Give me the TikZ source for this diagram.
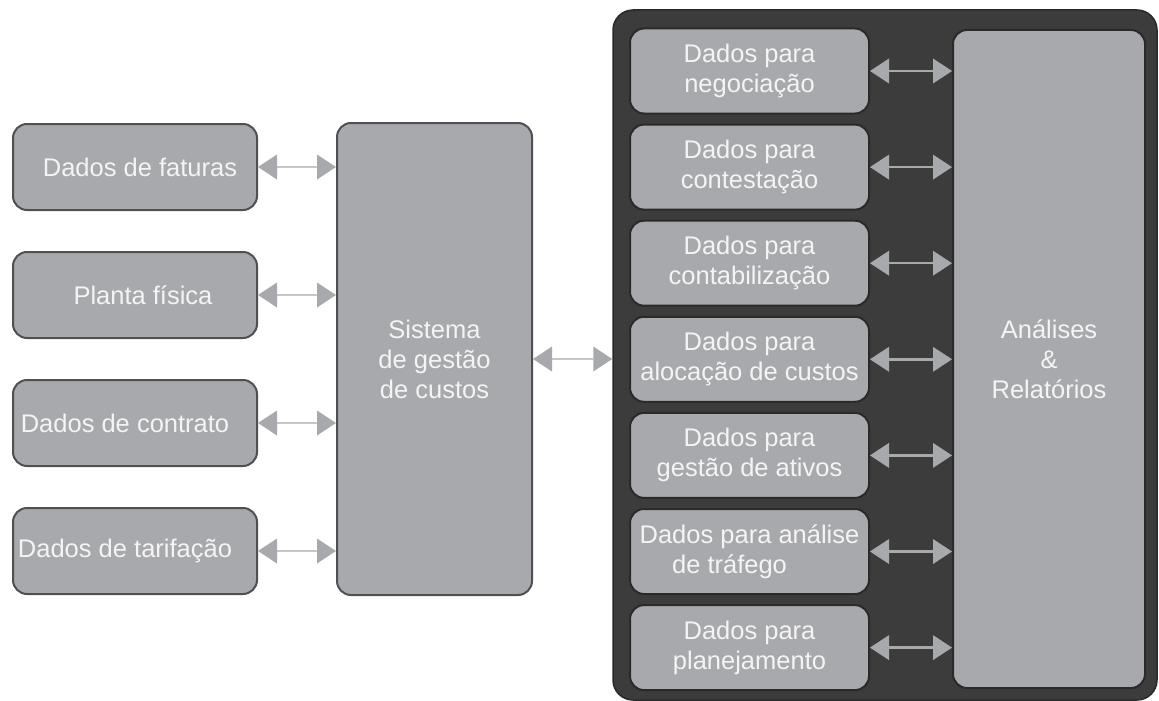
\documentclass[tikz,border=0pt]{standalone}
\usepackage{fontspec}
\setmainfont{Liberation Sans}
\usetikzlibrary{arrows.meta}
\definecolor{boxgray}{HTML}{A8A9AD}
\definecolor{edgegray}{HTML}{505052}
\definecolor{panelgray}{HTML}{3C3C3C}
\definecolor{paneledge}{HTML}{2A2A2A}
\definecolor{linkgray}{HTML}{C6C6C8}
\definecolor{txt}{HTML}{F4F4F4}
\begin{document}
\begin{tikzpicture}[x=1pt,y=-1pt,
  box/.style={draw=edgegray, line width=2pt, fill=boxgray, rounded corners=14pt,
    inner sep=0pt, text=txt, font=\fontsize{25.5}{30}\selectfont, align=center},
  srcbox/.style={box, minimum width=244pt, minimum height=86pt},
  databox/.style={box, draw=paneledge, minimum width=239pt, minimum height=85pt},
  tipshape/.style={Triangle[length=19pt,width=25pt,color=boxgray,fill=boxgray,line width=0pt]},
  link/.style={draw=linkgray, line width=2.5pt, {Triangle[length=19pt,width=25pt,color=boxgray,fill=boxgray,line width=0pt]}-{Triangle[length=19pt,width=25pt,color=boxgray,fill=boxgray,line width=0pt]}},
  innerlink/.style={link, draw=boxgray}]
\useasboundingbox (0,0) rectangle (1159,701);
\fill[white] (0,0) rectangle (1159,701);

% dark panel holding the data outputs
\node[draw=paneledge, line width=1.5pt, fill=panelgray, rounded corners=20pt,
  minimum width=544pt, minimum height=690pt, inner sep=0pt] (panel) at (885,355) {};

% input sources
\node[srcbox] (fat) at (135,167) {\hspace*{10pt}Dados de faturas};
\node[srcbox] (pla) at (135,295) {\hspace*{16pt}Planta física};
\node[srcbox] (con) at (135,423) {Dados de contrato\hspace*{20pt}};
\node[srcbox] (tar) at (135,551) {Dados de tarifação\hspace*{20pt}};

% central system
\node[box, minimum width=195pt, minimum height=472pt] (sys) at (434.5,359)
  {Sistema\\de gestão\\de custos};

% data outputs
\node[databox] (neg) at (749.5,71)    {Dados para\\negociação};
\node[databox] (cts) at (749.5,167.1) {Dados para\\contestação};
\node[databox] (cnt) at (749.5,263.2) {Dados para\\contabilização};
\node[databox] (alo) at (749.5,359.3) {Dados para\\alocação de custos};
\node[databox] (ati) at (749.5,455.4) {Dados para\\gestão de ativos};
\node[databox] (tra) at (749.5,551.5) {Dados para análise\\de tráfego\hspace*{40pt}};
\node[databox] (pln) at (749.5,647.6) {Dados para\\planejamento};

% analyses and reports
\node[box, draw=paneledge, minimum width=192pt, minimum height=658pt] (rel) at (1049,359)
  {Análises\\\&\\Relatórios};

% connectors
\foreach \n in {fat,pla,con,tar}
  \draw[link] (\n.east) -- (\n.east -| sys.west);
\draw[link] (sys.east) -- (sys.east -| panel.west);
\foreach \n in {neg,cts,cnt,alo,ati,tra,pln}
  \draw[innerlink] (\n.east) -- (\n.east -| rel.west);
\end{tikzpicture}
\end{document}
